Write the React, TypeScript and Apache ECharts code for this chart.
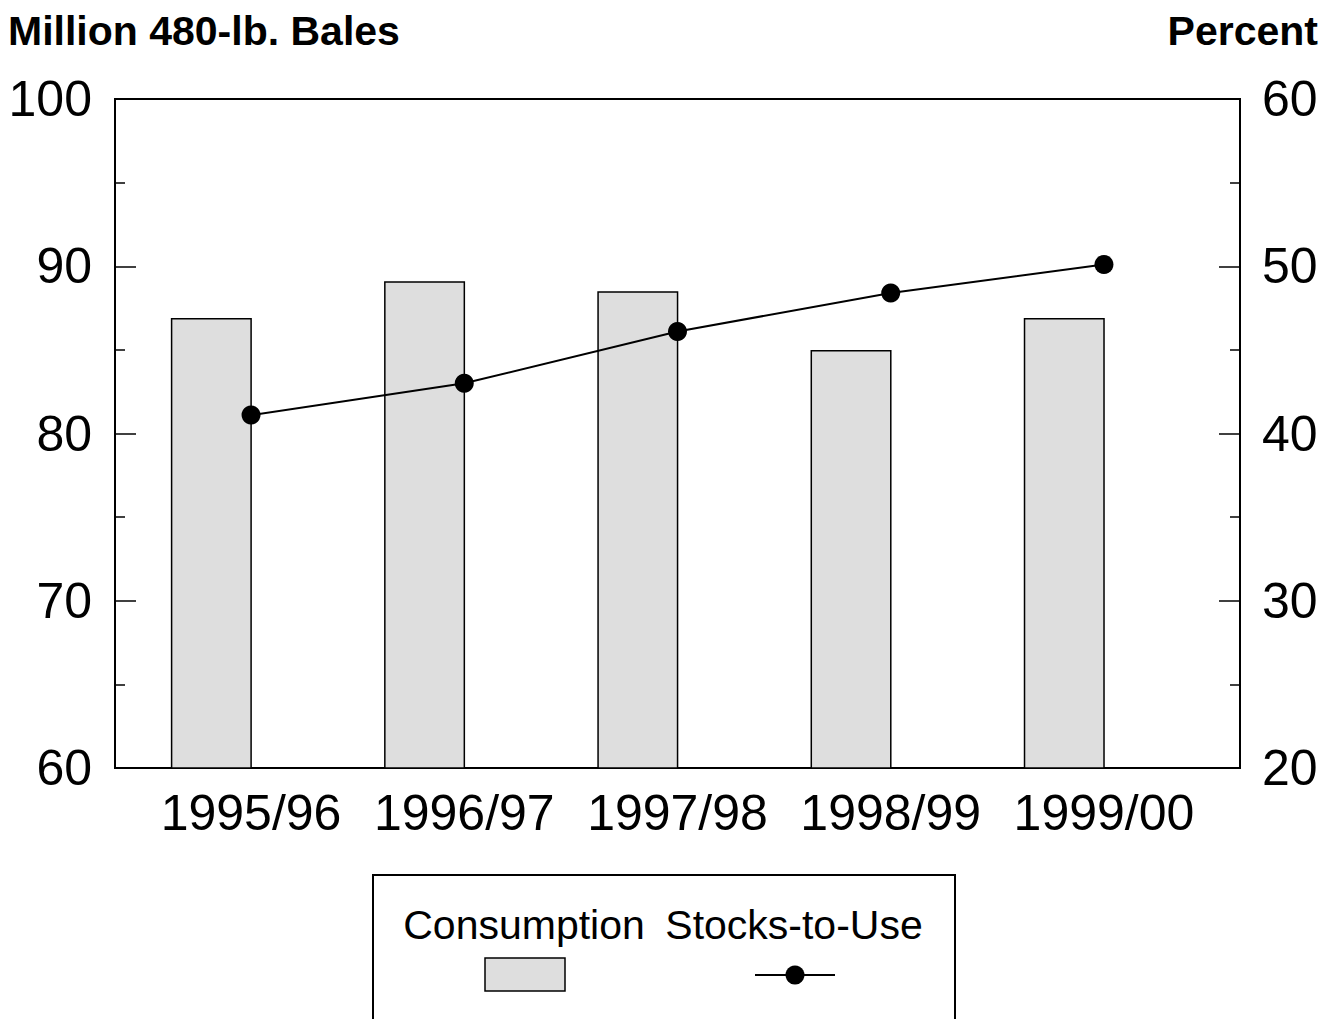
import React, { useEffect, useRef } from "react";
import * as echarts from "echarts";

const categories = ["1995/96", "1996/97", "1997/98", "1998/99", "1999/00"];
const consumption = [86.9, 89.1, 88.5, 85.0, 86.9];
const stocksToUse = [41.1, 43.0, 46.1, 48.4, 50.1];
const leftTitle = "Million 480-lb. Bales";
const rightTitle = "Percent";
const legendNames = ["Consumption", "Stocks-to-Use"];

const FONT = "'Liberation Sans', Arial, Helvetica, sans-serif";

export default function App() {
  const ref = useRef<HTMLDivElement>(null);
  useEffect(() => {
    if (!ref.current) return;
    const chart = echarts.init(ref.current, null, { renderer: "svg" });
    const idx = categories.map((_, i) => i);
    const axisY = (min: number, max: number, position: string, margin: number) => ({
      type: "value",
      min,
      max,
      interval: 10,
      position,
      axisLine: { show: true, onZero: false, lineStyle: { color: "#000", width: 2 } },
      axisTick: { show: true, inside: true, length: 21, lineStyle: { color: "#000", width: 1.5 } },
      minorTick: { show: true, splitNumber: 2, length: 10, lineStyle: { color: "#000", width: 1.5 } },
      splitLine: { show: false },
      minorSplitLine: { show: false },
      axisLabel: { color: "#000", fontSize: 50, fontFamily: FONT, margin },
    });
    const option: any = {
      animation: false,
      backgroundColor: "#fff",
      textStyle: { fontFamily: FONT },
      grid: {
        left: 115,
        right: 97,
        top: 99,
        bottom: 251,
        show: true,
        borderColor: "#000",
        borderWidth: 2,
        backgroundColor: "transparent",
      },
      xAxis: {
        type: "value",
        min: -0.638,
        max: 4.638,
        axisLine: { show: true, onZero: false, lineStyle: { color: "#000", width: 2 } },
        axisTick: { show: false },
        splitLine: { show: false },
        axisLabel: {
          customValues: idx,
          formatter: (v: number) => categories[Math.round(v)] ?? "",
          color: "#000",
          fontSize: 50,
          fontFamily: FONT,
          margin: 20,
        },
      },
      yAxis: [axisY(60, 100, "left", 23), axisY(20, 60, "right", 22)],
      series: [
        {
          name: legendNames[0],
          type: "bar",
          xAxisIndex: 0,
          yAxisIndex: 0,
          barWidth: 81,
          barGap: "-2%",
          data: consumption.map((v, i) => [i, v]),
          itemStyle: { color: "#dedede", borderColor: "#000", borderWidth: 1.5 },
          z: 2,
        },
        {
          name: "spacer",
          type: "bar",
          xAxisIndex: 0,
          yAxisIndex: 0,
          barWidth: 81,
          barGap: "-2%",
          data: idx.map((i) => [i, null]),
          itemStyle: { color: "transparent" },
          silent: true,
          z: 1,
        },
        {
          name: legendNames[1],
          type: "line",
          xAxisIndex: 0,
          yAxisIndex: 1,
          data: stocksToUse.map((v, i) => [i, v]),
          symbol: "circle",
          symbolSize: 19,
          itemStyle: { color: "#000" },
          lineStyle: { color: "#000", width: 2 },
          z: 3,
        },
      ],
      graphic: [
        {
          type: "text",
          left: 8,
          top: 10,
          style: { text: leftTitle, fontSize: 41, fontWeight: "bold", fontFamily: FONT, fill: "#000" },
        },
        {
          type: "text",
          right: 19,
          top: 10,
          style: { text: rightTitle, fontSize: 41, fontWeight: "bold", fontFamily: FONT, fill: "#000" },
        },
        {
          type: "rect",
          shape: { x: 373, y: 875, width: 582, height: 200 },
          style: { fill: "#fff", stroke: "#000", lineWidth: 2 },
        },
        {
          type: "text",
          x: 524,
          y: 925,
          style: { text: legendNames[0], fontSize: 41, fontFamily: FONT, fill: "#000", align: "center", verticalAlign: "middle" },
        },
        {
          type: "text",
          x: 794,
          y: 925,
          style: { text: legendNames[1], fontSize: 41, fontFamily: FONT, fill: "#000", align: "center", verticalAlign: "middle" },
        },
        {
          type: "rect",
          shape: { x: 485, y: 958, width: 80, height: 33 },
          style: { fill: "#dedede", stroke: "#000", lineWidth: 1.5 },
        },
        {
          type: "line",
          shape: { x1: 755, y1: 975, x2: 835, y2: 975 },
          style: { stroke: "#000", lineWidth: 2 },
        },
        {
          type: "circle",
          shape: { cx: 795, cy: 975, r: 9.5 },
          style: { fill: "#000" },
        },
      ],
    };
    chart.setOption(option);
    return () => chart.dispose();
  }, []);
  return (
    <div
      ref={ref}
      style={{ position: "absolute", left: 0, top: 0, width: 1337, height: 1019 }}
    />
  );
}
